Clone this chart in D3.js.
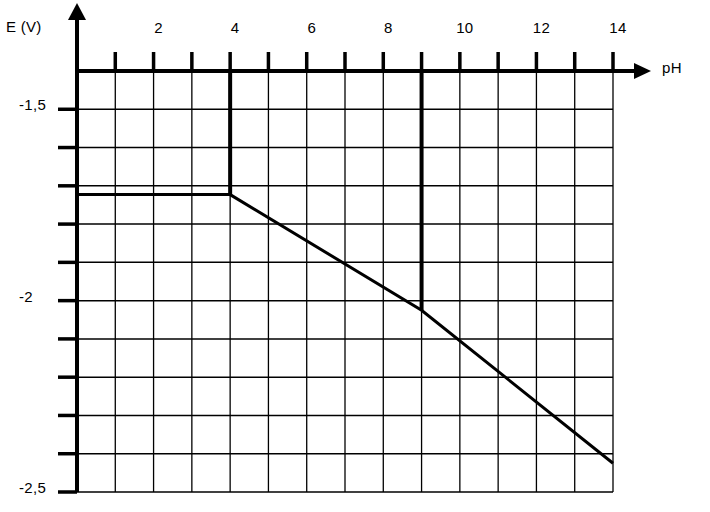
<!DOCTYPE html>
<html><head><meta charset="utf-8">
<script src="https://cdn.jsdelivr.net/npm/d3@7"></script>
<style>body{margin:0;background:#fff}svg{display:block}text{font-family:"Liberation Sans",Arial,sans-serif;font-size:15px;fill:#000;letter-spacing:0.3px}</style>
</head><body>
<svg id="c" width="710" height="512"></svg>
<script>
const pHBreaks = [0, 4, 9, 14];
const potentials = [-1.723, -1.723, -2.025, -2.425];
const xTickLabels = [2, 4, 6, 8, 10, 12, 14];
const yTickLabels = ["-1,5", "-2", "-2,5"];
const yTickValues = [-1.5, -2, -2.5];
const thickVerticals = [4, 9];

const svg = d3.select("#c");
const x = d3.scaleLinear().domain([0, 14]).range([77, 613]);
const y = d3.scaleLinear().domain([-1.4, -2.5]).range([71, 492]);

const gridX = d3.range(1, 15);
const gridY = d3.range(0, 11).map(i => -1.5 - i * 0.1);

// grid
svg.append("g").selectAll("line").data(gridX).join("line")
  .attr("x1", d => x(d)).attr("x2", d => x(d)).attr("y1", y(-1.4)).attr("y2", y(-2.5))
  .attr("stroke", "#000").attr("stroke-width", 1.3);
svg.append("g").selectAll("line").data(gridY).join("line")
  .attr("x1", x(0)).attr("x2", x(14)).attr("y1", d => y(d)).attr("y2", d => y(d))
  .attr("stroke", "#000").attr("stroke-width", 1.5);

// thick verticals
svg.append("g").selectAll("line").data(thickVerticals).join("line")
  .attr("x1", d => x(d)).attr("x2", d => x(d)).attr("y1", y(-1.4))
  .attr("y2", d => y(potentials[pHBreaks.indexOf(d)]))
  .attr("stroke", "#000").attr("stroke-width", 4);

// x ticks above axis
svg.append("g").selectAll("line").data(gridX).join("line")
  .attr("x1", d => x(d)).attr("x2", d => x(d)).attr("y1", y(-1.4) - 19).attr("y2", y(-1.4))
  .attr("stroke", "#000").attr("stroke-width", 3.5);
// y ticks left
svg.append("g").selectAll("line").data(gridY).join("line")
  .attr("x1", x(0) - 19).attr("x2", x(0)).attr("y1", d => y(d)).attr("y2", d => y(d))
  .attr("stroke", "#000").attr("stroke-width", 3.5);

// axes
svg.append("line").attr("x1", x(0)).attr("x2", 636).attr("y1", y(-1.4)).attr("y2", y(-1.4))
  .attr("stroke", "#000").attr("stroke-width", 4);
svg.append("line").attr("x1", x(0)).attr("x2", x(0)).attr("y1", 18).attr("y2", y(-2.5))
  .attr("stroke", "#000").attr("stroke-width", 4);
svg.append("path").attr("d", `M634,63 L651,71 L634,79 Z`).attr("fill", "#000");
svg.append("path").attr("d", `M68,20 L77,3 L86,20 Z`).attr("fill", "#000");

// data line
const line = d3.line().x((d, i) => x(pHBreaks[i])).y(d => y(d));
svg.append("path").datum(potentials).attr("d", line)
  .attr("fill", "none").attr("stroke", "#000").attr("stroke-width", 3).attr("stroke-linejoin", "miter");

// labels
svg.append("g").selectAll("text").data(xTickLabels).join("text")
  .attr("x", d => x(d) + 5).attr("y", 33).attr("text-anchor", "middle").text(d => d);
svg.append("g").selectAll("text").data(yTickValues).join("text")
  .attr("x", 19).attr("y", d => y(d) + 1).text((d, i) => yTickLabels[i]);
svg.append("text").attr("x", 6).attr("y", 32).text("E (V)");
svg.append("text").attr("x", 662).attr("y", 73).text("pH");
</script>
</body></html>
